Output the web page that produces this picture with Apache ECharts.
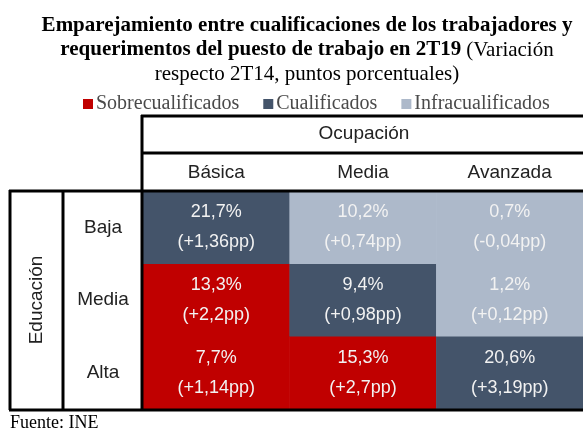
<!DOCTYPE html>
<html>
<head>
<meta charset="utf-8">
<script src="https://cdn.jsdelivr.net/npm/echarts@6/dist/echarts.min.js"></script>
<style>
  html, body { margin: 0; padding: 0; background: #fff; }
  #chart { width: 583px; height: 430px; }
</style>
</head>
<body>
<div id="chart"></div>
<script>
// datos
const ocupacion = ['Básica', 'Media', 'Avanzada'];
const educacion = ['Baja', 'Media', 'Alta'];
const grupos = ['Sobrecualificados', 'Cualificados', 'Infracualificados'];
// filas = educación, columnas = ocupación
const cuota2T19 = [
  [21.7, 10.2, 0.7],
  [13.3, 9.4, 1.2],
  [7.7, 15.3, 20.6]
];
const variacionPP = [
  [1.36, 0.74, -0.04],
  [2.2, 0.98, 0.12],
  [1.14, 2.7, 3.19]
];
const grupoCelda = [
  ['Cualificados', 'Infracualificados', 'Infracualificados'],
  ['Sobrecualificados', 'Cualificados', 'Infracualificados'],
  ['Sobrecualificados', 'Sobrecualificados', 'Cualificados']
];

const colores = {
  Sobrecualificados: '#c00000',
  Cualificados: '#44546a',
  Infracualificados: '#adb9ca'
};

const coma = v => String(v).replace('.', ',');

function celdas(grupo) {
  const out = [];
  educacion.forEach((e, i) => {
    ocupacion.forEach((o, j) => {
      if (grupoCelda[i][j] === grupo) out.push([j, i, cuota2T19[i][j], variacionPP[i][j]]);
    });
  });
  return out;
}

const chart = echarts.init(document.getElementById('chart'));

const serif = 'Liberation Serif';
const sans = 'Liberation Sans';
const G = { left: 143, top: 191, right: 0, bottom: 21 };
const yBottom = 430 - G.bottom;

function linea(x1, y1, x2, y2) {
  return { type: 'line', shape: { x1, y1, x2, y2 }, style: { stroke: '#000', lineWidth: 3 }, z: 100 };
}

chart.setOption({
  animation: false,
  title: {
    left: 302,
    top: 9,
    textAlign: 'center',
    text: '{b|Emparejamiento entre cualificaciones de los trabajadores y}\n' +
          '{b|requerimentos del puesto de trabajo en 2T19} {n|(Variación}\n' +
          '{n|respecto 2T14, puntos porcentuales)}',
    textStyle: {
      fontWeight: 'normal',
      rich: {
        b: { fontFamily: serif, fontWeight: 'bold', fontSize: 21, color: '#000', lineHeight: 24 },
        n: { fontFamily: serif, fontWeight: 'normal', fontSize: 21, color: '#000', lineHeight: 24 }
      }
    }
  },
  legend: {
    top: 89,
    left: 78,
    data: grupos,
    icon: 'rect',
    itemWidth: 10,
    itemHeight: 10,
    itemGap: 24,
    selectedMode: false,
    textStyle: { fontFamily: serif, fontSize: 20, color: '#4a4a4a', padding: [0, 0, 0, -2] }
  },
  grid: G,
  xAxis: {
    type: 'category',
    position: 'top',
    data: ocupacion,
    axisLine: { show: false },
    axisTick: { show: false },
    splitLine: { show: false },
    axisLabel: { fontFamily: sans, fontSize: 19, color: '#222', margin: 9 }
  },
  yAxis: {
    type: 'category',
    inverse: true,
    data: educacion,
    axisLine: { show: false },
    axisTick: { show: false },
    splitLine: { show: false },
    axisLabel: { fontFamily: sans, fontSize: 19, color: '#222', margin: 40, align: 'center' }
  },
  series: grupos.map(g => ({
    type: 'heatmap',
    name: g,
    data: celdas(g),
    itemStyle: { color: colores[g] },
    emphasis: { disabled: true },
    label: {
      show: true,
      fontFamily: sans,
      fontSize: 18,
      color: '#f2f2f2',
      lineHeight: 30,
      formatter: p => p.value[2].toFixed(1).replace('.', ',') + '%\n(' +
        (p.value[3] >= 0 ? '+' : '') + coma(p.value[3]) + 'pp)'
    }
  })),
  graphic: [
    linea(141, 116, 583, 116),
    linea(141, 153, 583, 153),
    linea(9, 191, 583, 191),
    linea(142, 115, 142, yBottom + 1),
    linea(10, 190, 10, yBottom + 1),
    linea(63, 190, 63, yBottom + 1),
    linea(9, yBottom + 1, 583, yBottom + 1),
    {
      type: 'text', x: 364, y: 134,
      style: { text: 'Ocupación', font: '19px ' + sans, fill: '#222', align: 'center', verticalAlign: 'middle' }
    },
    {
      type: 'text', x: 37, y: 300, rotation: Math.PI / 2,
      style: { text: 'Educación', font: '19px ' + sans, fill: '#222', align: 'center', verticalAlign: 'middle' }
    },
    {
      type: 'text', x: 10, y: 423,
      style: { text: 'Fuente: INE', font: '18px ' + serif, fill: '#000', align: 'left', verticalAlign: 'middle' }
    }
  ]
});
</script>
</body>
</html>
